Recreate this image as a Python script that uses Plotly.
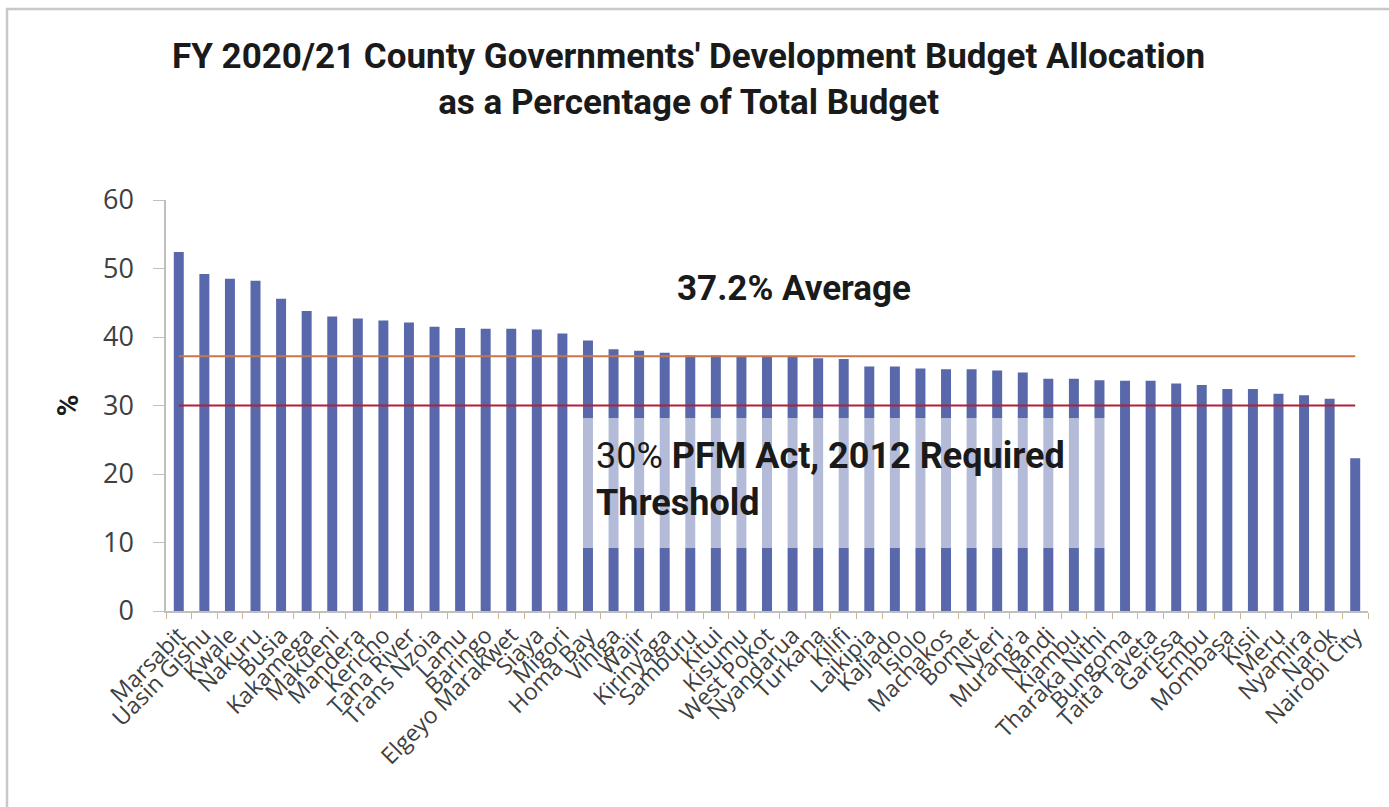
import plotly.graph_objects as go

counties = ["Marsabit", "Uasin Gishu", "Kwale", "Nakuru", "Busia", "Kakamega", "Makueni",
            "Mandera", "Kericho", "Tana River", "Trans Nzoia", "Lamu", "Baringo",
            "Elgeyo Marakwet", "Siaya", "Migori", "Homa Bay", "Vihiga", "Wajir", "Kirinyaga",
            "Samburu", "Kitui", "Kisumu", "West Pokot", "Nyandarua", "Turkana", "Kilifi",
            "Laikipia", "Kajiado", "Isiolo", "Machakos", "Bomet", "Nyeri", "Murang'a", "Nandi",
            "Kiambu", "Tharaka Nithi", "Bungoma", "Taita Taveta", "Garissa", "Embu", "Mombasa",
            "Kisii", "Meru", "Nyamira", "Narok", "Nairobi City"]
dev_share = [52.4, 49.2, 48.5, 48.2, 45.6, 43.8, 43.0, 42.7, 42.4, 42.1, 41.5, 41.3, 41.2,
             41.2, 41.1, 40.5, 39.5, 38.2, 38.0, 37.7, 37.3, 37.3, 37.2, 37.2, 37.1, 36.9, 36.8,
             35.7, 35.7, 35.4, 35.3, 35.3, 35.1, 34.8, 33.9, 33.9, 33.7, 33.6, 33.6, 33.2, 33.0,
             32.4, 32.4, 31.7, 31.5, 31.0, 22.3]
average = 37.2
threshold = 30
y_ticks = [0, 10, 20, 30, 40, 50, 60]

W, H = 1389, 807
L, R, T, B = 166, 21, 200, 196
PW, PH = W - L - R, H - T - B


def px(x):
    return (x - L) / PW


def py(y):
    return (H - B - y) / PH


fig = go.Figure()
fig.add_trace(go.Bar(x=counties, y=dev_share, marker=dict(color="#5868AA", line=dict(width=0)),
                     showlegend=False))
fig.add_trace(go.Scatter(x=[counties[0], counties[-1]], y=[average, average], mode="lines",
                         line=dict(color="#C8764A", width=2), showlegend=False))
fig.add_trace(go.Scatter(x=[counties[0], counties[-1]], y=[threshold, threshold], mode="lines",
                         line=dict(color="#B0203A", width=2), showlegend=False))

shapes = [
    dict(type="rect", xref="paper", yref="paper", x0=px(568), x1=px(1108), y0=py(548), y1=py(418),
         fillcolor="rgba(255,255,255,0.55)", line=dict(width=0), layer="above"),
    dict(type="rect", xref="paper", yref="paper", x0=px(7), x1=px(1400), y0=py(820), y1=py(9),
         fillcolor="rgba(0,0,0,0)", line=dict(color="#C8C8C8", width=2.5), layer="above"),
]

annotations = [
    dict(text="<b>FY 2020/21 County Governments' Development Budget Allocation</b><br>"
              "<b>as a Percentage of Total Budget</b>",
         xref="paper", yref="paper", x=px(688), y=py(79), xanchor="center", yanchor="middle",
         showarrow=False, font=dict(family="Roboto", size=35, color="#1a1a1a")),
    dict(text="<b>37.2% Average</b>", xref="paper", yref="paper", x=px(794), y=py(288),
         xanchor="center", yanchor="middle", showarrow=False,
         font=dict(family="Roboto", size=35, color="#1a1a1a")),
    dict(text="30% <b>PFM Act, 2012 Required</b><br><b>Threshold</b>", xref="paper", yref="paper",
         x=px(594), y=py(479), xanchor="left", yanchor="middle", align="left", showarrow=False,
         font=dict(family="Roboto", size=36, color="#1a1a1a")),
]

fig.update_layout(
    width=W, height=H, margin=dict(l=L, r=R, t=T, b=B, autoexpand=False),
    paper_bgcolor="white", plot_bgcolor="white", bargap=0.61,
    shapes=shapes, annotations=annotations,
    xaxis=dict(type="category", tickangle=-45, showline=True, linecolor="#BFBFBF", linewidth=1.5,
               ticks="outside", ticklen=6, tickcolor="#C8B48E", tickson="boundaries",
               tickmode="array", tickvals=counties, ticktext=counties,
               tickfont=dict(family="Open Sans", size=23, color="#404040"), showgrid=False,
               range=[-0.5, len(counties) - 0.5]),
    yaxis=dict(range=[0, 60], tickvals=y_ticks, showline=True, linecolor="#BFBFBF", linewidth=1.5,
               ticks="outside", ticklen=11, tickcolor="#BFBFBF", showgrid=False, zeroline=False,
               ticklabelstandoff=14,
               tickfont=dict(family="Open Sans", size=27, color="#404040"),
               title=dict(text="<b>%</b>", standoff=15, font=dict(family="Roboto", size=30, color="#1a1a1a"))),
)

fig.write_html("out.html")
